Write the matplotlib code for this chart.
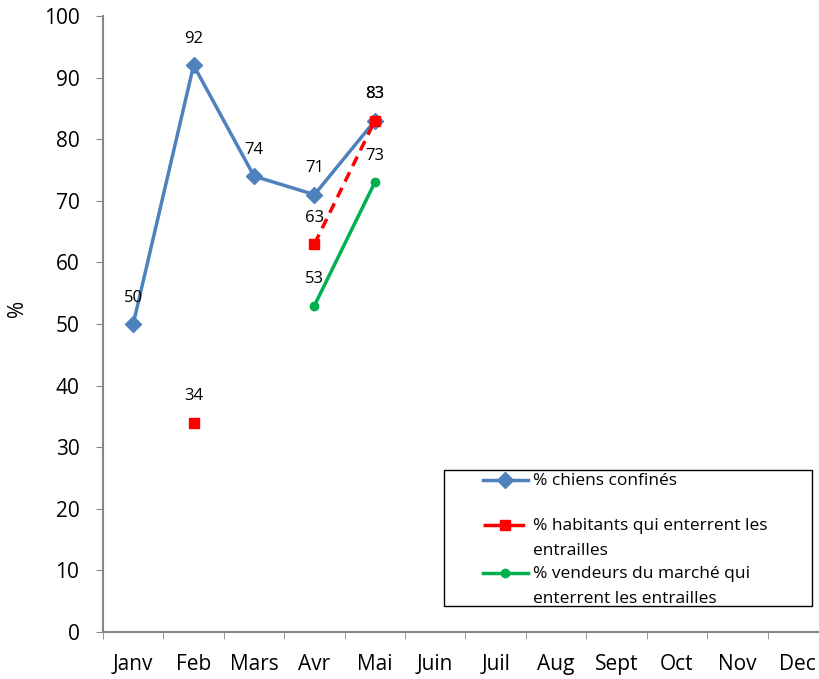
import numpy as np
import matplotlib.pyplot as plt
from matplotlib.ticker import FixedLocator
from matplotlib.lines import Line2D
from matplotlib.patches import Rectangle

plt.rcParams['font.family'] = ['Open Sans', 'DejaVu Sans']

months = ['Janv', 'Feb', 'Mars', 'Avr', 'Mai', 'Juin', 'Juil', 'Aug', 'Sept', 'Oct', 'Nov', 'Dec']
chiens = [50, 92, 74, 71, 83] + [np.nan] * 7
habitants = [np.nan, 34, np.nan, 63, 83] + [np.nan] * 7
vendeurs = [np.nan, np.nan, np.nan, 53, 73] + [np.nan] * 7

lab_chiens = '% chiens confinés'
lab_habitants = '% habitants qui enterrent les\nentrailles'
lab_vendeurs = '% vendeurs du marché qui\nenterrent les entrailles'

W, H = 820, 679
fig = plt.figure(figsize=(8.2, 6.79), dpi=100)
ax = fig.add_axes([103/W, 47/H, 725/W, 616/H])

x = np.arange(len(months))
styles = [
    (chiens, lab_chiens, dict(color='#4F81BD', lw=2.5, marker='D', ms=8)),
    (habitants, lab_habitants, dict(color='#FF0000', lw=2.5, ls=(0, (3, 2)), marker='s', ms=7.5)),
    (vendeurs, lab_vendeurs, dict(color='#00B050', lw=2.5, marker='o', ms=6)),
]
for series, lab, kw in styles:
    ax.plot(x, series, label=lab, **kw)

# data labels above the points
for series, lab, kw in styles:
    for xi, v in zip(x, series):
        if not np.isnan(v):
            ax.annotate(f'{v:.0f}', (xi, v), xytext=(0, 19), textcoords='offset points',
                        ha='center', va='center', fontsize=12)

ax.set_xlim(-0.5, 11.5)
ax.set_ylim(0, 100)
ax.set_yticks(range(0, 101, 10))
ax.set_xticks(x)
ax.set_xticklabels(months)
ax.xaxis.set_minor_locator(FixedLocator(np.arange(-0.5, 12, 1)))
ax.tick_params(axis='x', which='major', length=0, pad=16, labelsize=15)
ax.tick_params(axis='x', which='minor', length=5, color='#868686', direction='out')
ax.tick_params(axis='y', length=5, color='#868686', pad=12, labelsize=15)
for s in ['top', 'right']:
    ax.spines[s].set_visible(False)
for s in ['left', 'bottom']:
    ax.spines[s].set_color('#868686')
    ax.spines[s].set_linewidth(1.5)

ax.set_ylabel('%', fontsize=15)
ax.yaxis.set_label_coords((28 - 103) / 725, (632 - 308) / 616)

# legend box drawn by hand so the handles sit on the first text line
fig.add_artist(Rectangle((444/W, 1 - 606/H), (812-444)/W, (606-470)/H,
                         transform=fig.transFigure, fill=False, edgecolor='black', lw=1.0))
rows = [480, 525, 573]
for (series, lab, kw), yy in zip(styles, rows):
    yf = 1 - yy/H
    hkw = dict(kw)
    if 'ls' in hkw:
        hkw['ls'] = (0, (5, 2))
    fig.add_artist(Line2D([483/W, 505/W, 528/W], [yf, yf, yf], transform=fig.transFigure,
                          markevery=[1], **hkw))
    fig.text(533/W, 1 - (yy - 7)/H, lab, va='top', ha='left', fontsize=12.5,
             linespacing=1.75)

fig.savefig('out.png', dpi=100)
